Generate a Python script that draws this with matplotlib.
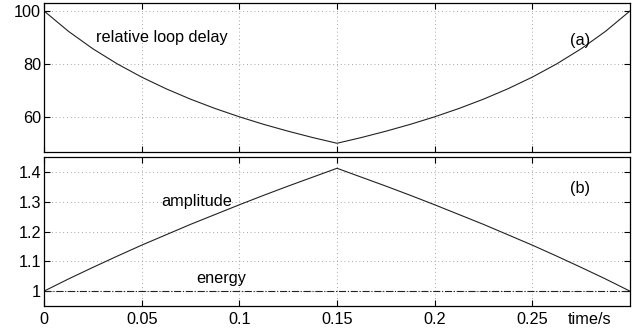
import numpy as np
import matplotlib.pyplot as plt

plt.rcParams['font.family'] = ['Liberation Sans', 'DejaVu Sans']

# values
t = [0, 0.0125, 0.025, 0.0375, 0.05, 0.0625, 0.075, 0.0875, 0.1, 0.1125, 0.125, 0.1375, 0.15,
     0.1625, 0.175, 0.1875, 0.2, 0.2125, 0.225, 0.2375, 0.25, 0.2625, 0.275, 0.2875, 0.3]
delay = [100, 92.31, 85.71, 80.0, 75.0, 70.59, 66.67, 63.16, 60.0, 57.14, 54.55, 52.17, 50,
         52.17, 54.55, 57.14, 60.0, 63.16, 66.67, 70.59, 75.0, 80.0, 85.71, 92.31, 100]
amplitude = [1, 1.041, 1.080, 1.118, 1.155, 1.190, 1.225, 1.258, 1.291, 1.323, 1.354, 1.384, 1.414,
             1.384, 1.354, 1.323, 1.291, 1.258, 1.225, 1.190, 1.155, 1.118, 1.080, 1.041, 1]
energy = [1.0] * len(t)
xticks = [0, 0.05, 0.1, 0.15, 0.2, 0.25]
xticklabels = ['0', '0.05', '0.1', '0.15', '0.2', '0.25']

fs = 11.7

fig = plt.figure(figsize=(6.35, 3.33), dpi=100)
ax1 = fig.add_axes([44/635, 1 - 152/333, 586/635, 149/333])
ax2 = fig.add_axes([44/635, 1 - 306/333, 586/635, 149/333])

ax1.plot(t, delay, color='#222222', lw=0.8)
ax1.set_ylim(46.7, 103)
ax1.set_yticks([60, 80, 100])
ax1.text(0.0265, 89.8, 'relative loop delay', fontsize=fs, va='center', ha='left')
ax1.text(0.2745, 89, '(a)', fontsize=fs, va='center', ha='center')

ax2.plot(t, amplitude, color='#222222', lw=0.8)
ax2.plot(t, energy, color='#222222', lw=0.8, ls='-.')
ax2.set_ylim(0.95, 1.452)
ax2.set_yticks([1, 1.1, 1.2, 1.3, 1.4])
ax2.set_yticklabels(['1', '1.1', '1.2', '1.3', '1.4'])
ax2.text(0.078, 1.302, 'amplitude', fontsize=fs, va='center', ha='center')
ax2.text(0.0905, 1.044, 'energy', fontsize=fs, va='center', ha='center')
ax2.text(0.2745, 1.347, '(b)', fontsize=fs, va='center', ha='center')

for ax in (ax1, ax2):
    ax.set_xlim(0, 0.3)
    ax.set_xticks(xticks)
    ax.grid(True, ls=(0, (1, 3.5)), color='#888888', lw=0.6)
    ax.tick_params(direction='in', top=True, right=True, labelsize=fs, length=4, width=0.8)
    ax.tick_params(axis='y', pad=2.2)
    ax.tick_params(axis='x', pad=4.5)
    for s in ax.spines.values():
        s.set_linewidth(0.9)
ax1.set_xticklabels([])
ax2.set_xticklabels(xticklabels)
ax2.text(0.2795, -0.042, 'time/s', fontsize=fs, ha='center', va='top',
         transform=ax2.get_xaxis_transform())

fig.savefig('out.png', dpi=100)
